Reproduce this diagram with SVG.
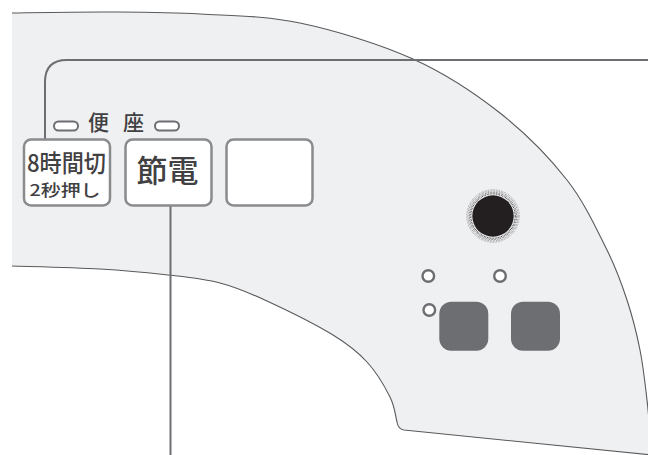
<svg xmlns="http://www.w3.org/2000/svg" width="648" height="455" viewBox="0 0 648 455">
<style>
.panel{fill:#eff0f2;stroke:none}
.edge{fill:none;stroke:#58595b;stroke-width:1.1}
.btn{fill:#ffffff;stroke:#8a8b8d;stroke-width:2.5}
.ind{fill:#ffffff;stroke:#6d6e71;stroke-width:2}
.led{fill:#ffffff;stroke:#6d6e71;stroke-width:2.4}
.dark{fill:#6d6e71}
.conn{fill:none;stroke:#6d6e71;stroke-width:2}
.t{font-family:"Noto Sans CJK JP","Noto Sans",sans-serif;fill:#414042;font-weight:500}
.halo{fill:none;stroke:#231f20;stroke-dasharray:0.7 0.9}
</style>
<rect width="648" height="455" fill="#ffffff"/>
<g id="panel">
<path class="panel" d="M12,13 C28.3,12.8 78.7,11.8 110,12 C141.3,12.2 168.3,12.2 200,14 C231.7,15.8 264.5,15.5 300,23 C335.5,30.5 379.7,44 413,59 C446.3,74 474.3,92.8 500,113 C525.7,133.2 549.2,157.2 567,180 C584.8,202.8 597,230 607,250 C617,270 621.5,283.3 627,300 C632.5,316.7 636.7,333.3 640,350 C643.3,366.7 645,382.5 647,400 C649,417.5 651.2,445.8 652,455 L404,430 Q398,429 397,422 C395.8,417.8 395,407 390,397 C385,387 376.5,372.3 367,362 C357.5,351.7 349.7,345.2 333,335 C316.3,324.8 285.8,309.7 267,301 C248.2,292.3 236.5,287.3 220,283 C203.5,278.7 188,277.3 168,275 C148,272.7 126,270.5 100,269 C74,267.5 26.7,266.5 12,266 Z"/>
<path class="edge" d="M12,13 C28.3,12.8 78.7,11.8 110,12 C141.3,12.2 168.3,12.2 200,14 C231.7,15.8 264.5,15.5 300,23 C335.5,30.5 379.7,44 413,59 C446.3,74 474.3,92.8 500,113 C525.7,133.2 549.2,157.2 567,180 C584.8,202.8 597,230 607,250 C617,270 621.5,283.3 627,300 C632.5,316.7 636.7,333.3 640,350 C643.3,366.7 645,382.5 647,400 C649,417.5 651.2,445.8 652,455"/>
<path class="edge" d="M12,266 C26.7,266.5 74,267.5 100,269 C126,270.5 148,272.7 168,275 C188,277.3 203.5,278.7 220,283 C236.5,287.3 248.2,292.3 267,301 C285.8,309.7 316.3,324.8 333,335 C349.7,345.2 357.5,351.7 367,362 C376.5,372.3 385,387 390,397 C395,407 395.8,417.8 397,422 Q398,429 404,430 L652,455"/>
</g>
<g id="connectors">
<path class="conn" d="M45,139 V82 Q45,60 67,60 H648"/>
<path class="conn" d="M170.5,206 V455"/>
</g>
<g id="seat-label">
<rect class="ind" x="54" y="121.5" width="24" height="9" rx="4.5"/>
<rect class="ind" x="155" y="121.5" width="24" height="9" rx="4.5"/>
<text class="t" x="88 123" y="130" font-size="21">便座</text>
</g>
<g id="btn-8h">
<rect class="btn" x="24" y="139.5" width="86" height="66" rx="7"/>
<text class="t" x="27" y="171.5" font-size="24" textLength="79" lengthAdjust="spacingAndGlyphs">8時間切</text>
<text class="t" x="29.5" y="195.5" font-size="16" textLength="71" lengthAdjust="spacingAndGlyphs">2秒押し</text>
</g>
<g id="btn-setsuden">
<rect class="btn" x="125.5" y="139.5" width="86" height="66" rx="7"/>
<text class="t" x="167.5" y="182" font-size="31" text-anchor="middle">節電</text>
</g>
<g id="btn-blank">
<rect class="btn" x="226.5" y="139.5" width="86" height="66" rx="7"/>
</g>
<g id="knob">
<circle class="halo" cx="493" cy="216" r="26.3" stroke-width="0.8" opacity="0.5"/>
<circle class="halo" cx="493" cy="216" r="25" stroke-width="0.9" opacity="0.65"/>
<circle class="halo" cx="493" cy="216" r="23.6" stroke-width="1" opacity="0.8"/>
<circle class="halo" cx="493" cy="216" r="22.2" stroke-width="1.1"/>
<circle cx="493" cy="216" r="20.7" fill="#231f20"/>
</g>
<g id="led-1"><circle class="led" cx="428.3" cy="276" r="5.8"/></g>
<g id="led-2"><circle class="led" cx="500" cy="276" r="5.8"/></g>
<g id="led-3"><circle class="led" cx="429.3" cy="310" r="5.8"/></g>
<g id="dark-btn-1"><rect class="dark" x="439.3" y="301.7" width="49" height="49" rx="12"/></g>
<g id="dark-btn-2"><rect class="dark" x="511" y="301.7" width="49" height="49" rx="12"/></g>
</svg>
